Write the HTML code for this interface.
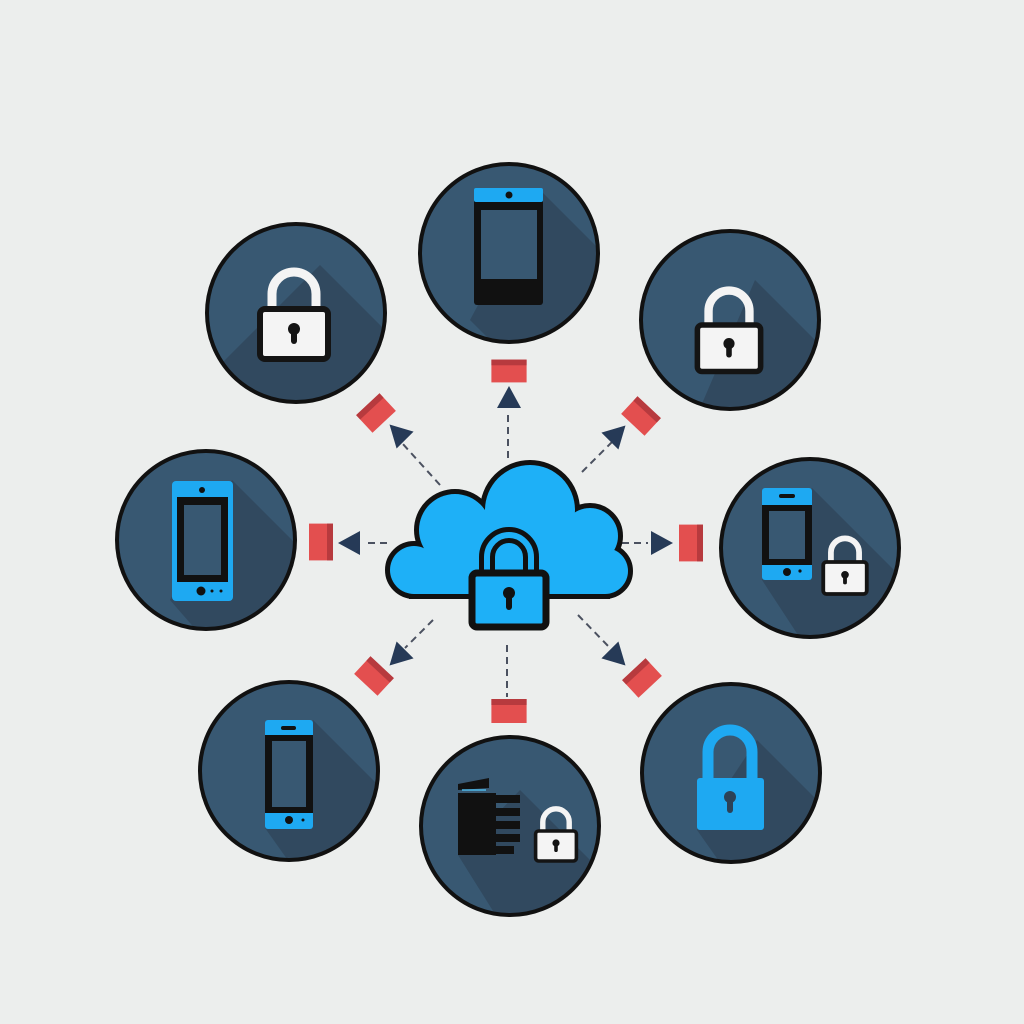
<!DOCTYPE html>
<html><head><meta charset="utf-8"><style>html,body{margin:0;padding:0;background:#eceeed}svg{display:block}</style></head><body>
<svg width="1024" height="1024" viewBox="0 0 1024 1024" xmlns="http://www.w3.org/2000/svg">
<defs>
<g id="wlock">
 <path d="M-22 0 V-15 A22 22 0 0 1 22 -15 V0" fill="none" stroke="#f4f4f4" stroke-width="9"/>
 <rect x="-34" y="0" width="68" height="50" rx="5" fill="#f4f4f4" stroke="#141414" stroke-width="6"/>
 <circle cx="0" cy="20" r="6" fill="#141414"/><rect x="-3" y="20" width="6" height="15" rx="3" fill="#141414"/>
</g>
<g id="tri"><polygon points="12,0 -10,-12 -10,12" fill="#263a57"/></g>
<g id="red"><rect x="-16" y="-12" width="32" height="24" fill="#e34f4f"/><rect x="-16" y="-12" width="32" height="6" fill="#b73a3e"/></g>
</defs>
<rect width="1024" height="1024" fill="#eceeed"/>

<g id="nodes">
<clipPath id="c1"><circle cx="296" cy="313" r="89"/></clipPath>
<circle cx="296" cy="313" r="89" fill="#385872"/>
<polygon clip-path="url(#c1)" points="320,265 480,425 380,525 220,365" fill="#31495f"/>
<circle cx="296" cy="313" r="89" fill="none" stroke="#111" stroke-width="4"/>

<clipPath id="c2"><circle cx="509" cy="253" r="89"/></clipPath>
<circle cx="509" cy="253" r="89" fill="#385872"/>
<polygon clip-path="url(#c2)" points="540,190 700,350 600,450 470,320" fill="#31495f"/>
<circle cx="509" cy="253" r="89" fill="none" stroke="#111" stroke-width="4"/>

<clipPath id="c3"><circle cx="730" cy="320" r="89"/></clipPath>
<circle cx="730" cy="320" r="89" fill="#385872"/>
<polygon clip-path="url(#c3)" points="755,280 915,440 815,540 695,420" fill="#31495f"/>
<circle cx="730" cy="320" r="89" fill="none" stroke="#111" stroke-width="4"/>

<clipPath id="c4"><circle cx="206" cy="540" r="89"/></clipPath>
<circle cx="206" cy="540" r="89" fill="#385872"/>
<polygon clip-path="url(#c4)" points="232,480 392,640 292,740 170,600" fill="#31495f"/>
<circle cx="206" cy="540" r="89" fill="none" stroke="#111" stroke-width="4"/>

<clipPath id="c5"><circle cx="810" cy="548" r="89"/></clipPath>
<circle cx="810" cy="548" r="89" fill="#385872"/>
<polygon clip-path="url(#c5)" points="812,488 972,648 872,748 762,580" fill="#31495f"/>
<circle cx="810" cy="548" r="89" fill="none" stroke="#111" stroke-width="4"/>

<clipPath id="c6"><circle cx="289" cy="771" r="89"/></clipPath>
<circle cx="289" cy="771" r="89" fill="#385872"/>
<polygon clip-path="url(#c6)" points="313,720 473,880 373,980 265,828" fill="#31495f"/>
<circle cx="289" cy="771" r="89" fill="none" stroke="#111" stroke-width="4"/>

<clipPath id="c7"><circle cx="510" cy="826" r="89"/></clipPath>
<circle cx="510" cy="826" r="89" fill="#385872"/>
<polygon clip-path="url(#c7)" points="520,790 680,950 580,1050 458,855" fill="#31495f"/>
<circle cx="510" cy="826" r="89" fill="none" stroke="#111" stroke-width="4"/>

<clipPath id="c8"><circle cx="731" cy="773" r="89"/></clipPath>
<circle cx="731" cy="773" r="89" fill="#385872"/>
<polygon clip-path="url(#c8)" points="757,740 917,900 817,1000 697,830" fill="#31495f"/>
<circle cx="731" cy="773" r="89" fill="none" stroke="#111" stroke-width="4"/>
</g>

<use href="#wlock" transform="translate(294,309)"/>
<use href="#wlock" transform="translate(729,325) scale(0.93)"/>
<use href="#wlock" transform="translate(845,562) scale(0.64)"/>
<use href="#wlock" transform="translate(556,831) scale(0.6)"/>

<path d="M708 780 V752 A22 22 0 0 1 752 752 V780" fill="none" stroke="#1ea9f2" stroke-width="11"/>
<rect x="697" y="778" width="67" height="52" rx="3" fill="#1ea9f2"/>
<circle cx="730" cy="797" r="6" fill="#2c4257"/><rect x="727" y="797" width="6" height="16" rx="3" fill="#2c4257"/>

<rect x="474" y="188" width="69" height="117" rx="3" fill="#111"/>
<rect x="474" y="188" width="69" height="14" rx="2" fill="#1ea9f2"/>
<circle cx="509" cy="195" r="3.5" fill="#111"/>
<rect x="481" y="210" width="56" height="69" fill="#385872"/>

<rect x="172" y="481" width="61" height="120" rx="4" fill="#1ea9f2"/>
<rect x="177" y="497" width="51" height="85" fill="#111"/>
<rect x="184" y="505" width="37" height="70" fill="#385872"/>
<circle cx="202" cy="490" r="3" fill="#111"/>
<circle cx="201" cy="591" r="4.5" fill="#111"/><circle cx="212" cy="591" r="1.5" fill="#111"/><circle cx="221" cy="591" r="1.5" fill="#111"/>

<rect x="762" y="488" width="50" height="92" rx="3" fill="#1ea9f2"/>
<rect x="762" y="505" width="50" height="60" fill="#111"/>
<rect x="769" y="511" width="36" height="48" fill="#385872"/>
<rect x="779" y="494" width="16" height="4" rx="2" fill="#111"/>
<circle cx="787" cy="572" r="4" fill="#111"/><circle cx="800" cy="571" r="1.6" fill="#111"/>

<rect x="265" y="720" width="48" height="109" rx="3" fill="#1ea9f2"/>
<rect x="265" y="735" width="48" height="78" fill="#111"/>
<rect x="272" y="741" width="34" height="66" fill="#385872"/>
<rect x="281" y="726" width="15" height="4" rx="2" fill="#111"/>
<circle cx="289" cy="820" r="4" fill="#111"/><circle cx="303" cy="820" r="1.5" fill="#111"/>

<polygon points="458,784 489,778 489,788 458,790" fill="#111"/>
<line x1="462" y1="790" x2="486" y2="790" stroke="#4fb8e8" stroke-width="1.5"/>
<rect x="458" y="793" width="38" height="62" fill="#111"/>
<rect x="490" y="795" width="30" height="8" fill="#111"/>
<rect x="490" y="808" width="30" height="8" fill="#111"/>
<rect x="490" y="821" width="30" height="8" fill="#111"/>
<rect x="490" y="834" width="30" height="8" fill="#111"/>
<rect x="490" y="846" width="24" height="8" fill="#111"/>

<g stroke="#4b5160" stroke-width="2" stroke-dasharray="7,5" fill="none">
<line x1="508" y1="458" x2="508" y2="410"/>
<line x1="440" y1="485" x2="402" y2="443"/>
<line x1="582" y1="472" x2="612" y2="442"/>
<line x1="387" y1="543" x2="365" y2="543"/>
<line x1="622" y1="543" x2="648" y2="543"/>
<line x1="433" y1="620" x2="405" y2="648"/>
<line x1="507" y1="645" x2="507" y2="697"/>
<line x1="578" y1="615" x2="610" y2="648"/>
</g>
<use href="#tri" transform="translate(509,398) rotate(-90)"/>
<use href="#tri" transform="translate(398,433) rotate(-135)"/>
<use href="#tri" transform="translate(617,434) rotate(-45)"/>
<use href="#tri" transform="translate(350,543) rotate(180)"/>
<use href="#tri" transform="translate(661,543)"/>
<use href="#tri" transform="translate(398,657) rotate(135)"/>
<use href="#tri" transform="translate(617,657) rotate(45)"/>

<use href="#red" transform="translate(509,371) scale(1.1,0.95)"/>
<use href="#red" transform="translate(376,413) rotate(-43)"/>
<use href="#red" transform="translate(641,416) rotate(43)"/>
<use href="#red" transform="translate(321,542) rotate(90) scale(1.15,1)"/>
<use href="#red" transform="translate(691,543) rotate(90) scale(1.15,1)"/>
<use href="#red" transform="translate(374,676) rotate(43)"/>
<use href="#red" transform="translate(509,711) scale(1.1,1)"/>
<use href="#red" transform="translate(642,678) rotate(-43)"/>

<g id="cloudshape">
<circle cx="414" cy="570" r="24"/><circle cx="455" cy="530" r="36"/><circle cx="530" cy="510" r="45"/><circle cx="590" cy="536" r="28"/><circle cx="605" cy="571" r="23"/><rect x="414" y="560" width="191" height="34"/><rect x="440" y="535" width="160" height="40"/><rect x="450" y="510" width="100" height="40"/>
</g>
<g fill="#111" stroke="#111" stroke-width="10"><use href="#cloudshape"/></g>
<g fill="#1eb0f7"><use href="#cloudshape"/></g>
<path d="M487 576 V557 A22 22 0 0 1 531 557 V576" fill="none" stroke="#111" stroke-width="16"/>
<path d="M487 576 V557 A22 22 0 0 1 531 557 V576" fill="none" stroke="#1eb0f7" stroke-width="6"/>
<rect x="472" y="573" width="74" height="54" rx="5" fill="#1eb0f7" stroke="#111" stroke-width="7"/>
<circle cx="509" cy="593" r="6" fill="#111"/><rect x="506" y="593" width="6" height="17" rx="3" fill="#111"/>
</svg>
</body></html>
